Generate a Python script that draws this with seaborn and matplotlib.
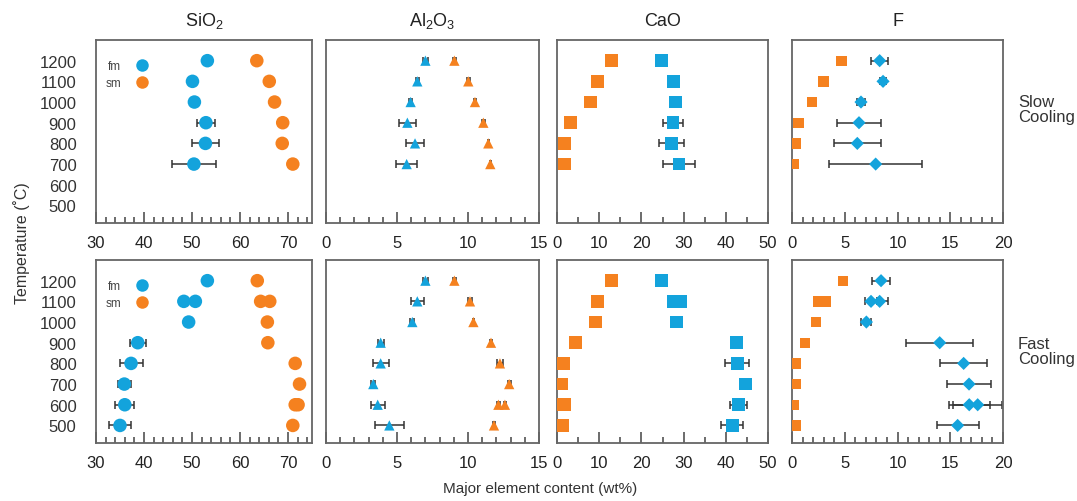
import pandas as pd
import matplotlib
matplotlib.use('Agg')
import matplotlib.pyplot as plt
import seaborn as sns
from matplotlib.ticker import MultipleLocator
from matplotlib.lines import Line2D

# temperatures (deg C)
T_SLOW = [1200, 1100, 1000, 900, 800, 700]
T_FAST = [1200, 1100, 1000, 900, 800, 700, 600, 500]

# ---- slow cooling ----
sio2_slow_fm = [53.2, 50.1, 50.5, 52.9, 52.8, 50.4]
sio2_slow_fm_err = [0.4, 0.5, 0.3, 1.9, 2.8, 4.5]
sio2_slow_sm = [63.5, 66.1, 67.2, 68.9, 68.8, 71.0]
sio2_slow_sm_err = [0.8, 0.8, 0.6, 0.7, 0.6, 0.7]

al2o3_slow_fm = [7.0, 6.43, 5.96, 5.73, 6.27, 5.68]
al2o3_slow_fm_err = [0.15, 0.1, 0.1, 0.62, 0.63, 0.74]
al2o3_slow_sm = [9.04, 10.02, 10.49, 11.08, 11.43, 11.57]
al2o3_slow_sm_err = [0.1, 0.1, 0.05, 0.1, 0.05, 0.05]

cao_slow_fm = [24.7, 27.7, 28.0, 27.5, 27.2, 28.9]
cao_slow_fm_err = [0.3, 1.0, 0.3, 2.4, 3.0, 3.9]
cao_slow_sm = [13.0, 9.6, 7.9, 3.2, 1.8, 1.7]
cao_slow_sm_err = [0, 0, 0, 0, 0, 0]

f_slow_fm = [8.31, 8.63, 6.54, 6.35, 6.19, 7.93]
f_slow_fm_err = [0.8, 0.3, 0.4, 2.1, 2.2, 4.4]
f_slow_sm = [4.7, 3.0, 1.9, 0.63, 0.38, 0.22]
f_slow_sm_err = [0.3, 0.3, 0.2, 0.2, 0.2, 0.1]

# ---- fast cooling ----
sio2_fast_fm_T = [1200, 1100, 1100, 1000, 900, 800, 700, 600, 500]
sio2_fast_fm = [53.2, 48.3, 50.7, 49.3, 38.7, 37.3, 35.9, 36.0, 35.0]
sio2_fast_fm_err = [0.3, 0.3, 0.3, 0.5, 1.7, 2.4, 1.4, 2.0, 2.2]
sio2_fast_sm_T = [1200, 1100, 1100, 1000, 900, 800, 700, 600, 600, 500]
sio2_fast_sm = [63.6, 64.3, 66.2, 65.7, 65.8, 71.5, 72.4, 71.5, 72.1, 71.0]
sio2_fast_sm_err = [0.3, 0.8, 0.3, 0.3, 0.8, 0.3, 0.3, 0.5, 0.3, 0.3]

al2o3_fast_fm_T = T_FAST
al2o3_fast_fm = [7.0, 6.43, 6.08, 3.85, 3.85, 3.33, 3.64, 4.46]
al2o3_fast_fm_err = [0.15, 0.47, 0.15, 0.2, 0.56, 0.15, 0.5, 1.0]
al2o3_fast_sm_T = [1200, 1100, 1000, 900, 800, 700, 600, 600, 500]
al2o3_fast_sm = [9.04, 10.14, 10.38, 11.62, 12.25, 12.9, 12.14, 12.6, 11.83]
al2o3_fast_sm_err = [0.1, 0.15, 0.05, 0.1, 0.2, 0.1, 0.1, 0.1, 0.1]

cao_fast_fm_T = [1200, 1100, 1100, 1000, 900, 800, 700, 600, 500]
cao_fast_fm = [24.7, 27.6, 29.2, 28.3, 42.5, 42.7, 44.6, 43.0, 41.5]
cao_fast_fm_err = [0.3, 0.3, 0.3, 0.3, 0.8, 2.9, 1.0, 2.0, 2.6]
cao_fast_sm_T = [1200, 1100, 1000, 900, 800, 700, 600, 600, 500]
cao_fast_sm = [13.0, 9.6, 9.1, 4.3, 1.6, 1.0, 0.6, 1.8, 1.3]
cao_fast_sm_err = [0, 0, 0, 0, 0, 0, 0, 0, 0]

f_fast_fm_T = [1200, 1100, 1100, 1000, 900, 800, 700, 600, 600, 500]
f_fast_fm = [8.44, 7.49, 8.31, 7.05, 14.0, 16.27, 16.78, 16.8, 17.6, 15.7]
f_fast_fm_err = [0.84, 0.6, 0.8, 0.47, 3.2, 2.24, 2.05, 1.95, 2.3, 2.0]
f_fast_sm_T = [1200, 1100, 1100, 1000, 900, 800, 700, 600, 500]
f_fast_sm = [4.83, 2.5, 3.25, 2.3, 1.2, 0.38, 0.38, 0.16, 0.32]
f_fast_sm_err = [0.3, 0.3, 0.3, 0.2, 0.2, 0.2, 0.2, 0.2, 0.2]

col_titles = ['SiO$_2$', 'Al$_2$O$_3$', 'CaO', 'F']
row_labels = ['Slow\nCooling', 'Fast\nCooling']
series_names = ['fm', 'sm']

BLUE = '#13a3dc'
ORANGE = '#f5811f'

sns.set_style('white')
plt.rcParams['font.family'] = ['Liberation Sans', 'DejaVu Sans']
plt.rcParams['mathtext.default'] = 'regular'

fig = plt.figure(figsize=(10.77, 5.02), dpi=100)
W, H = 1077, 502

col_px = [(96, 312), (326, 539), (557, 768), (792, 1003)]
row_px = [(41, 224), (261, 444)]
xlims = [(30, 75), (0, 15), (0, 50), (0, 20)]
majors = [10, 5, 10, 5]
minors = [2, 1, 5, 1]
markers_fm = ['o', '^', 's', 'D']
markers_sm = ['o', '^', 's', 's']
sizes_fm = [95, 55, 85, 45]
sizes_sm = [95, 55, 85, 55]

panels = [
    [(T_SLOW, sio2_slow_fm, sio2_slow_fm_err, T_SLOW, sio2_slow_sm, sio2_slow_sm_err),
     (T_SLOW, al2o3_slow_fm, al2o3_slow_fm_err, T_SLOW, al2o3_slow_sm, al2o3_slow_sm_err),
     (T_SLOW, cao_slow_fm, cao_slow_fm_err, T_SLOW, cao_slow_sm, cao_slow_sm_err),
     (T_SLOW, f_slow_fm, f_slow_fm_err, T_SLOW, f_slow_sm, f_slow_sm_err)],
    [(sio2_fast_fm_T, sio2_fast_fm, sio2_fast_fm_err, sio2_fast_sm_T, sio2_fast_sm, sio2_fast_sm_err),
     (al2o3_fast_fm_T, al2o3_fast_fm, al2o3_fast_fm_err, al2o3_fast_sm_T, al2o3_fast_sm, al2o3_fast_sm_err),
     (cao_fast_fm_T, cao_fast_fm, cao_fast_fm_err, cao_fast_sm_T, cao_fast_sm, cao_fast_sm_err),
     (f_fast_fm_T, f_fast_fm, f_fast_fm_err, f_fast_sm_T, f_fast_sm, f_fast_sm_err)],
]

for r in range(2):
    for c in range(4):
        x0, x1 = col_px[c]
        top, bot = row_px[r]
        ax = fig.add_axes([x0 / W, 1 - bot / H, (x1 - x0) / W, (bot - top) / H])
        fmT, fmV, fmE, smT, smV, smE = panels[r][c]
        df_fm = pd.DataFrame({'T': fmT, 'val': fmV, 'err': fmE})
        df_sm = pd.DataFrame({'T': smT, 'val': smV, 'err': smE})

        for df, col, mk, sz in ((df_fm, BLUE, markers_fm[c], sizes_fm[c]),
                                (df_sm, ORANGE, markers_sm[c], sizes_sm[c])):
            ax.errorbar(df['val'], df['T'], xerr=df['err'], fmt='none', ecolor='#333333',
                        elinewidth=1.1, capsize=3, capthick=1.1, zorder=2)
            sns.scatterplot(data=df, x='val', y='T', color=col, marker=mk, s=sz,
                            edgecolor='none', linewidth=0, legend=False, ax=ax, zorder=3)

        ax.set_xlim(*xlims[c])
        ax.set_ylim(415, 1300)
        ax.xaxis.set_major_locator(MultipleLocator(majors[c]))
        ax.xaxis.set_minor_locator(MultipleLocator(minors[c]))
        ax.set_yticks([500, 600, 700, 800, 900, 1000, 1100, 1200])
        ax.tick_params(axis='x', which='major', direction='in', length=8, width=1.1,
                       color='#444444', labelsize=12, pad=9, labelcolor='#222222')
        ax.tick_params(axis='x', which='minor', direction='in', length=4, width=1.1,
                       color='#444444')
        ax.tick_params(axis='x', which='both', bottom=True, top=False)
        ax.tick_params(axis='y', length=0, labelsize=12, labelcolor='#333333', pad=14)
        if c > 0:
            ax.set_yticklabels([])
        ax.set_xlabel('')
        ax.set_ylabel('')
        for sp in ax.spines.values():
            sp.set_color('#666666')
            sp.set_linewidth(1.3)

        if r == 0:
            ax.set_title(col_titles[c], fontsize=13, pad=11, color='#222222')

        if c == 0:
            handles = [Line2D([], [], marker='o', linestyle='none', markersize=9,
                              markerfacecolor=col, markeredgecolor='none')
                       for col in (BLUE, ORANGE)]
            ax.legend(handles, series_names, loc='upper left', bbox_to_anchor=(0.01, 0.93),
                      markerfirst=False, frameon=False, fontsize=8.5, handletextpad=0.8,
                      labelspacing=0.45, borderaxespad=0.2, labelcolor='#444444')

fig.text(1018 / W, 1 - 110 / H, row_labels[0], fontsize=12, ha='left', va='center',
         color='#333333', linespacing=1.05)
fig.text(1018 / W, 1 - 352 / H, row_labels[1], fontsize=12, ha='left', va='center',
         color='#333333', linespacing=1.05)
fig.text(22 / W, 1 - 243 / H, 'Temperature (˚C)', rotation=90, fontsize=11.5,
         ha='center', va='center', color='#333333')
fig.text(540 / W, 1 - 489 / H, 'Major element content (wt%)', fontsize=11,
         ha='center', va='center', color='#333333')

fig.savefig('out.png', dpi=100)
